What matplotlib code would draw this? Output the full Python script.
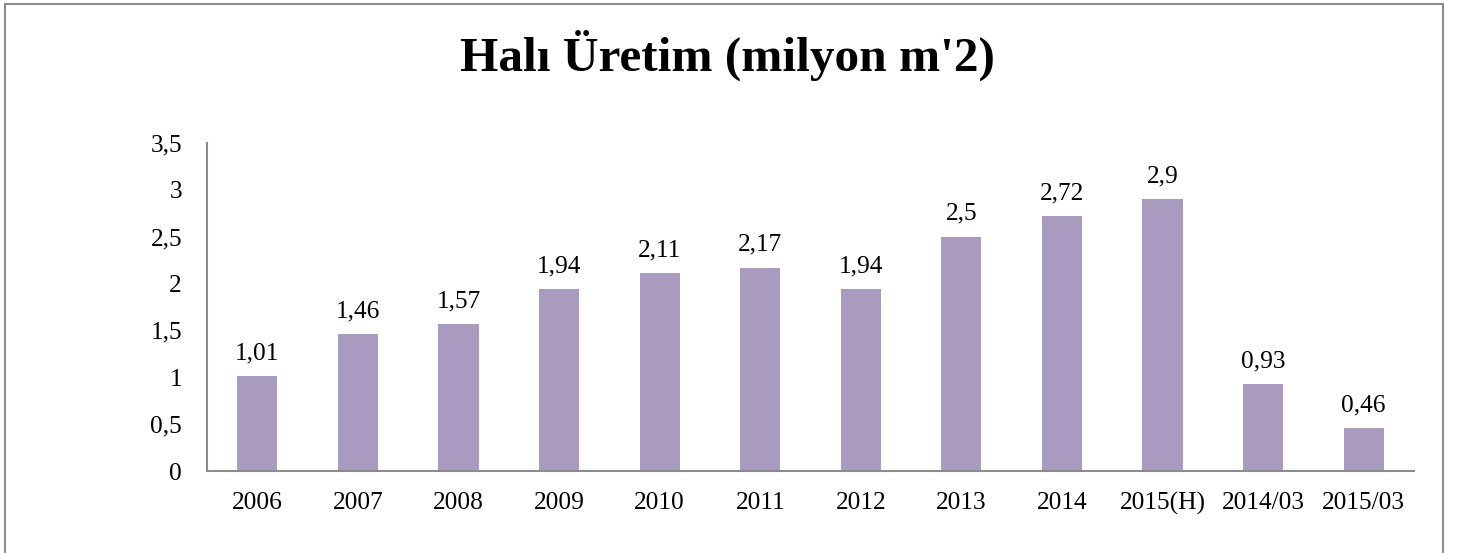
import matplotlib
matplotlib.use("Agg")
import matplotlib.pyplot as plt
from matplotlib.patches import Rectangle
from matplotlib.ticker import FuncFormatter

categories = ["2006", "2007", "2008", "2009", "2010", "2011", "2012", "2013",
              "2014", "2015(H)", "2014/03", "2015/03"]
values = [1.01, 1.46, 1.57, 1.94, 2.11, 2.17, 1.94, 2.5, 2.72, 2.9, 0.93, 0.46]
title = "Halı Üretim (milyon m'2)"

plt.rcParams['font.family'] = ['Liberation Serif', 'DejaVu Serif']

W, H = 1463, 553
fig = plt.figure(figsize=(W / 100, H / 100), dpi=100)

# outer frame
fig.patches.append(Rectangle((5 / W, -0.01), (1443 - 5) / W, 1 - 4 / H + 0.01,
                             transform=fig.transFigure, fill=False,
                             edgecolor="#8c8c8c", linewidth=1.5))

ax = fig.add_axes([207 / W, 1 - 471 / H, (1414 - 207) / W, (471 - 143) / H])
x = range(len(categories))
bars = ax.bar(x, values, width=0.4, color="#A99BBF")
ax.set_xlim(-0.5, len(categories) - 0.5)
ax.set_ylim(0, 3.5)
ax.set_yticks([0, 0.5, 1, 1.5, 2, 2.5, 3, 3.5])


def fmt(v, pos=None):
    s = ("%g" % v).replace(".", ",")
    return s


ax.yaxis.set_major_formatter(FuncFormatter(fmt))
ax.set_xticks(list(x))
ax.set_xticklabels(categories)
ax.tick_params(axis="both", length=0, labelsize=18.3)
ax.tick_params(axis="y", pad=18)
ax.tick_params(axis="x", pad=15)
for s in ["top", "right"]:
    ax.spines[s].set_visible(False)
for s in ["left", "bottom"]:
    ax.spines[s].set_color("#8c8c8c")
    ax.spines[s].set_linewidth(1.5)

for xi, v in zip(x, values):
    ax.annotate(fmt(v), (xi, v), xytext=(0, 8.5), textcoords="offset points",
                ha="center", va="bottom", fontsize=18.3)

fig.text(727 / W, 1 - 71 / H, title, ha="center", va="baseline",
         fontsize=35.5, fontweight="bold")

fig.savefig("out.png", dpi=100)
